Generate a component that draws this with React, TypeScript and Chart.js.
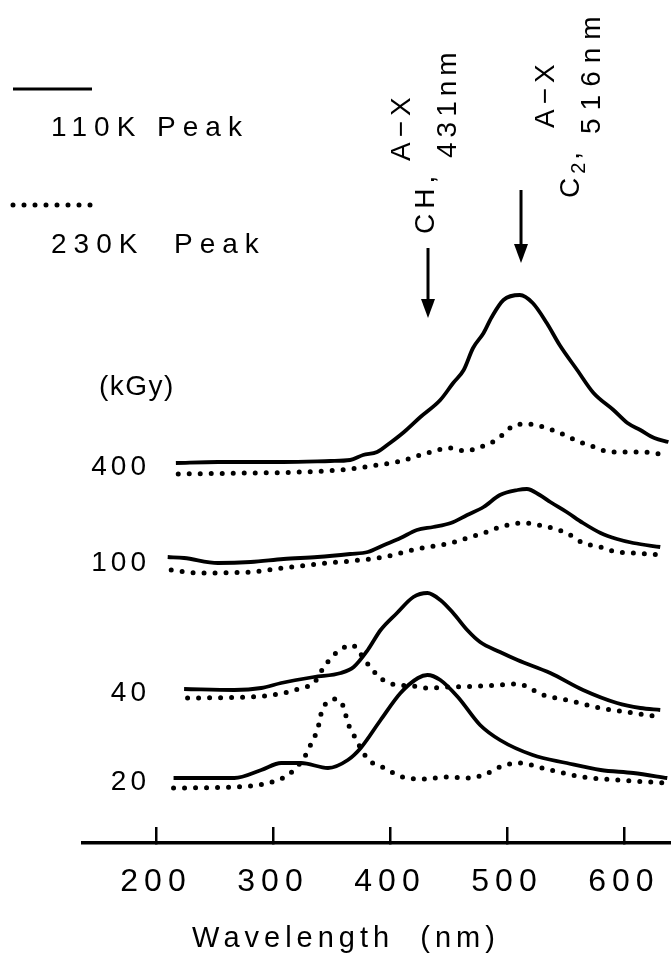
import React, { useEffect, useRef } from 'react';
import { Chart, registerables } from 'chart.js';

Chart.register(...registerables);

const FONT = "'Liberation Sans', Arial, Helvetica, sans-serif";

// ---- axes ----
const X_MIN = 137.6;
const X_MAX = 640.2;
const X_TICKS = [200, 300, 400, 500, 600];
const X_TITLE = 'Wavelength  (nm)';
const Y_MIN = 0;
const Y_MAX = 80;

// ---- doses (stack offsets, arbitrary intensity units) ----
const DOSE_UNIT = '(kGy)';
const DOSE_LABELS = ['400', '100', '40', '20'];
const DOSE_OFFSETS = [37.6, 28.0, 15.0, 6.1];

// ---- legend ----
const LEGEND_LABELS = ['110K Peak', '230K  Peak'];

// ---- band annotations ----
const ARROW_NM = [432.5, 512];

// ---- 400 kGy ----
const WL_400_110K = [217, 253, 309, 349, 366, 377, 389, 400, 412, 426, 443, 454, 463, 471, 480, 487, 497, 511, 522, 534, 545, 560, 574, 591, 603, 614, 626, 638];
const I_400_110K = [0.4, 0.5, 0.5, 0.6, 0.7, 1.2, 1.5, 2.4, 3.5, 5.0, 6.7, 8.4, 9.7, 11.9, 13.4, 15.0, 16.7, 17.2, 16.4, 14.4, 12.2, 9.7, 7.4, 5.7, 4.4, 3.7, 2.9, 2.5];
const WL_400_230K = [219, 281, 324, 366, 389, 406, 418, 429, 441, 452, 464, 477, 486, 493, 499, 505, 516, 524, 534, 543, 551, 560, 567, 577, 584, 594, 603, 614, 637];
const I_400_230K = [-0.7, -0.6, -0.5, -0.2, 0.2, 0.5, 0.9, 1.3, 1.7, 1.9, 1.6, 2.0, 2.4, 2.9, 3.5, 4.1, 4.3, 4.2, 3.9, 3.5, 3.1, 2.6, 2.3, 1.9, 1.6, 1.5, 1.5, 1.5, 1.2];

// ---- 100 kGy ----
const WL_100_110K = [210, 224, 253, 281, 309, 338, 366, 381, 395, 409, 423, 437, 452, 466, 480, 494, 509, 517, 528, 537, 551, 565, 580, 594, 608, 631];
const I_100_110K = [0.6, 0.5, 0.0, 0.1, 0.4, 0.6, 0.9, 1.1, 1.8, 2.5, 3.3, 3.6, 4.0, 4.8, 5.6, 6.8, 7.3, 7.4, 6.8, 6.1, 5.1, 4.0, 3.0, 2.4, 2.0, 1.6];
const WL_100_230K = [213, 238, 281, 309, 338, 366, 395, 423, 452, 466, 480, 494, 514, 531, 551, 565, 580, 594, 608, 631];
const I_100_230K = [-0.7, -1.0, -0.9, -0.5, -0.1, 0.2, 0.6, 1.4, 2.0, 2.5, 3.0, 3.6, 4.0, 3.7, 3.0, 2.0, 1.6, 1.1, 1.0, 0.8];

// ---- 40 kGy ----
const WL_40_110K = [224, 267, 290, 307, 335, 358, 369, 381, 392, 406, 420, 432, 443, 454, 466, 477, 494, 509, 537, 565, 594, 614, 631];
const I_40_110K = [0.4, 0.3, 0.5, 1.0, 1.6, 2.0, 2.6, 4.3, 6.3, 8.0, 9.6, 10.0, 9.3, 8.0, 6.3, 5.1, 4.1, 3.3, 2.0, 0.3, -1.0, -1.5, -1.7];
const WL_40_230K = [227, 281, 309, 324, 335, 343, 352, 360, 368, 373, 383, 394, 402, 420, 432, 449, 480, 509, 531, 551, 580, 608, 631];
const I_40_230K = [-0.5, -0.4, 0.0, 0.5, 1.0, 2.5, 3.8, 4.5, 4.8, 4.2, 2.6, 1.3, 0.9, 0.7, 0.5, 0.6, 0.7, 0.9, -0.2, -0.7, -1.5, -2.0, -2.4];

// ---- 20 kGy ----
const WL_20_110K = [215, 267, 290, 307, 324, 347, 364, 375, 392, 409, 424, 432, 443, 458, 477, 494, 522, 551, 580, 608, 637];
const I_20_110K = [0.4, 0.4, 1.2, 1.9, 1.9, 1.4, 2.2, 3.4, 6.2, 8.9, 10.4, 10.7, 10.2, 8.5, 5.7, 4.2, 2.7, 1.9, 1.2, 0.9, 0.4];
const WL_20_230K = [215, 267, 296, 315, 328, 334, 338, 342, 347, 353, 360, 364, 369, 381, 395, 411, 429, 447, 466, 480, 494, 509, 537, 565, 594, 637];
const I_20_230K = [-0.6, -0.5, -0.1, 0.9, 2.7, 4.2, 5.2, 7.2, 8.0, 8.3, 7.6, 5.9, 4.7, 2.3, 1.4, 0.5, 0.3, 0.5, 0.4, 0.7, 1.5, 1.9, 1.2, 0.5, 0.2, -0.1];

const SERIES_110K = [
  [WL_400_110K, I_400_110K],
  [WL_100_110K, I_100_110K],
  [WL_40_110K, I_40_110K],
  [WL_20_110K, I_20_110K],
];
const SERIES_230K = [
  [WL_400_230K, I_400_230K],
  [WL_100_230K, I_100_230K],
  [WL_40_230K, I_40_230K],
  [WL_20_230K, I_20_230K],
];

const INK = '#000';
const SOLID_WIDTH = 3.8;
const DOT_WIDTH = 5;
const DOT_DASH = [0, 11];

function toPoints(wl: number[], val: number[], off: number) {
  return wl.map((x, i) => ({ x, y: val[i] + off }));
}

function rotText(ctx: any, text: string, cx: number, yStart: number, size: number, spacing: number) {
  ctx.save();
  ctx.translate(cx, yStart);
  ctx.rotate(-Math.PI / 2);
  ctx.font = `${size}px ${FONT}`;
  ctx.letterSpacing = `${spacing}px`;
  ctx.textAlign = 'left';
  ctx.textBaseline = 'middle';
  ctx.fillStyle = INK;
  ctx.fillText(text, 0, 0);
  const w = ctx.measureText(text).width;
  ctx.restore();
  return w;
}

function flatText(ctx: any, text: string, x: number, y: number, size: number, spacing: number, align: string) {
  ctx.save();
  ctx.font = `${size}px ${FONT}`;
  ctx.letterSpacing = `${spacing}px`;
  ctx.textAlign = align;
  ctx.textBaseline = 'middle';
  ctx.fillStyle = INK;
  ctx.fillText(text, x, y);
  ctx.restore();
}

function arrow(ctx: any, x: number, yTop: number, yTip: number) {
  ctx.save();
  ctx.strokeStyle = INK;
  ctx.fillStyle = INK;
  ctx.lineWidth = 3;
  ctx.beginPath();
  ctx.moveTo(x, yTop);
  ctx.lineTo(x, yTip - 14);
  ctx.stroke();
  ctx.beginPath();
  ctx.moveTo(x - 7, yTip - 19);
  ctx.lineTo(x + 7, yTip - 19);
  ctx.lineTo(x, yTip);
  ctx.closePath();
  ctx.fill();
  ctx.restore();
}

const figurePlugin = {
  id: 'figureText',
  beforeDraw(chart: any) {
    chart.ctx.letterSpacing = '6px';
  },
  afterDraw(chart: any) {
    const ctx = chart.ctx;
    const xs = chart.scales.x;
    const ys = chart.scales.y;

    // legend
    const sampleY = [89, 205];
    const textY = [128, 245];
    LEGEND_LABELS.forEach((lab, i) => {
      ctx.save();
      ctx.strokeStyle = INK;
      ctx.beginPath();
      if (i === 0) {
        ctx.lineWidth = 3.2;
        ctx.setLineDash([]);
      } else {
        ctx.lineWidth = DOT_WIDTH;
        ctx.lineCap = 'round';
        ctx.setLineDash(DOT_DASH);
      }
      ctx.moveTo(13, sampleY[i]);
      ctx.lineTo(92, sampleY[i]);
      ctx.stroke();
      ctx.restore();
      flatText(ctx, lab, 51, textY[i], 28, 7, 'left');
    });

    // dose labels
    flatText(ctx, DOSE_UNIT, 99, 387, 28, 1.5, 'left');
    DOSE_LABELS.forEach((lab, i) => {
      flatText(ctx, lab, 150, ys.getPixelForValue(DOSE_OFFSETS[i]), 28, 4, 'right');
    });

    // x-axis title
    flatText(ctx, X_TITLE, 346, 939, 29, 5, 'center');

    // CH band
    const a1 = xs.getPixelForValue(ARROW_NM[0]);
    arrow(ctx, a1, 248, 318);
    rotText(ctx, 'A\u2212X', a1 - 26, 161, 28, 5);
    rotText(ctx, 'CH,', a1 - 2, 234, 28, 5);
    rotText(ctx, '431nm', a1 + 20, 158, 28, 5);

    // C2 band
    const a2 = xs.getPixelForValue(ARROW_NM[1]);
    arrow(ctx, a2, 190, 263);
    rotText(ctx, 'A\u2212X', a2 + 25, 128, 28, 5);
    const wC = rotText(ctx, 'C', a2 + 50, 198, 28, 4);
    const w2 = rotText(ctx, '2', a2 + 58, 198 - wC, 20, 3);
    rotText(ctx, ',', a2 + 50, 198 - wC - w2, 28, 4);
    rotText(ctx, '516nm', a2 + 71, 134, 28, 8);
  },
};

export default function App() {
  const ref = useRef<HTMLCanvasElement | null>(null);

  useEffect(() => {
    const canvas = ref.current;
    if (!canvas) return;

    const datasets: any[] = [];
    DOSE_LABELS.forEach((lab, i) => {
      const [wa, ia] = SERIES_110K[i];
      const [wb, ib] = SERIES_230K[i];
      datasets.push({
        label: `${lab} kGy 110K`,
        data: toPoints(wa, ia, DOSE_OFFSETS[i]),
        borderColor: INK,
        borderWidth: SOLID_WIDTH,
        pointRadius: 0,
        cubicInterpolationMode: 'monotone',
        fill: false,
      });
      datasets.push({
        label: `${lab} kGy 230K`,
        data: toPoints(wb, ib, DOSE_OFFSETS[i]),
        borderColor: INK,
        borderWidth: DOT_WIDTH,
        borderDash: DOT_DASH,
        borderCapStyle: 'round',
        pointRadius: 0,
        cubicInterpolationMode: 'monotone',
        fill: false,
      });
    });

    const chart = new Chart(canvas, {
      type: 'line',
      data: { datasets },
      options: {
        responsive: false,
        animation: false,
        layout: { padding: { left: 83, right: 0, top: 43, bottom: 0 } },
        plugins: {
          legend: { display: false },
          tooltip: { enabled: false },
        },
        elements: { point: { radius: 0 } },
        scales: {
          x: {
            type: 'linear',
            min: X_MIN,
            max: X_MAX,
            afterBuildTicks: (s: any) => {
              s.ticks = X_TICKS.map((v) => ({ value: v }));
            },
            afterFit: (s: any) => {
              s.height = 118;
              s.paddingLeft = 0;
              s.paddingRight = 0;
            },
            grid: {
              display: true,
              drawOnChartArea: false,
              drawTicks: true,
              tickLength: -16,
              color: INK,
              lineWidth: 2.5,
            },
            border: { display: true, color: INK, width: 3.5 },
            ticks: {
              color: INK,
              autoSkip: false,
              maxRotation: 0,
              padding: 36,
              font: { family: FONT, size: 32 },
              callback: (v: any) => String(v),
            },
          },
          y: { display: false, min: Y_MIN, max: Y_MAX },
        },
      },
      plugins: [figurePlugin],
    } as any);

    return () => chart.destroy();
  }, []);

  return (
    <div style={{ position: 'absolute', left: 0, top: 0, width: 671, height: 961, background: '#fff' }}>
      <canvas ref={ref} width={671} height={961} style={{ display: 'block' }} />
    </div>
  );
}
